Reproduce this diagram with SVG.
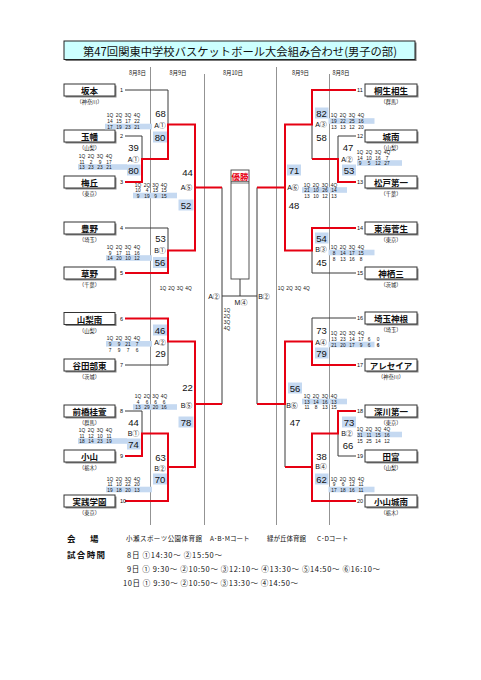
<svg xmlns="http://www.w3.org/2000/svg" width="481" height="680" viewBox="0 0 481 680">
<style>
text{font-family:"Noto Sans CJK JP",sans-serif;dominant-baseline:central;fill:#111}
.tn{font-size:8.5px;font-weight:bold;text-anchor:middle}
.pf{font-size:5.2px;text-anchor:middle}
.no{font-size:5.5px;font-family:"Liberation Sans","Noto Sans CJK JP",sans-serif}
.box{fill:#fff;stroke:#333;stroke-width:1}
.sh{fill:#888}
.ln{fill:none;stroke:#3a3a3a;stroke-width:1}
.rd{fill:none;stroke:#e60012;stroke-width:2}
.col{stroke:#777;stroke-width:0.8}
.sc{font-size:9.5px;text-anchor:middle;font-family:"Liberation Sans","Noto Sans CJK JP",sans-serif}
.lb{font-size:7px;text-anchor:middle;font-family:"Liberation Sans","Noto Sans CJK JP",sans-serif}
.q{font-size:4.8px;text-anchor:middle;font-family:"Liberation Sans","Noto Sans CJK JP",sans-serif}
.hl{fill:#c5d9f1}
.dt{font-size:5.5px;text-anchor:middle}
.ft{font-size:8.5px;font-weight:bold}
.fs{font-size:6.5px}
.tm{font-size:7.5px}
</style>

<g id="title">
<rect x="65.5" y="42.5" width="351" height="18.5" fill="#777"/>
<rect x="64" y="41" width="351" height="18.5" fill="#ccffff" stroke="#222" stroke-width="1"/>
<text x="240" y="50.5" font-size="11.3" text-anchor="middle" textLength="314">第47回関東中学校バスケットボール大会組み合わせ(男子の部)</text>
</g>

<g id="dates">
<text class="dt" x="137.5" y="72.5">8月8日</text>
<text class="dt" x="178" y="72.5">8月9日</text>
<text class="dt" x="233" y="72.5">8月10日</text>
<text class="dt" x="300.5" y="72.5">8月9日</text>
<text class="dt" x="341" y="72.5">8月8日</text>
<line class="col" x1="150.5" y1="67" x2="150.5" y2="525"/>
<line class="col" x1="204.5" y1="74" x2="204.5" y2="525"/>
<line class="col" x1="276.5" y1="67" x2="276.5" y2="525"/>
<line class="col" x1="329.5" y1="74" x2="329.5" y2="525"/>
</g>

<g id="connectors">
<path class="ln" d="M125 90H168V124.5M125 136H142V159M125 228H168V250.5M125 365H168V341.5M125 411H142V433.5"/>
<path class="ln" d="M356 136H338V159M356 273H312V250.5M356 318H312V341.5M356 456H338V433.5M312 124.5V159M285 404V467"/>
<path class="ln" d="M222 187.5V404M257 187.5V404M222 296H257M240 296V279"/>
<path class="rd" d="M125 182H142V159H168V124.5H195V187.5"/>
<path class="rd" d="M125 273H168V250.5H195V187.5H222"/>
<path class="rd" d="M125 318.5H168V341.5H195V404H222"/>
<path class="rd" d="M125 456H142V433.5H168V467H195V404"/>
<path class="rd" d="M125 501H168V467"/>
<path class="rd" d="M356 90H312V124.5H285V187.5H257"/>
<path class="rd" d="M356 182H338V159H312"/>
<path class="rd" d="M356 228H312V250.5H285V187.5"/>
<path class="rd" d="M356 365H312V341.5H285V404H257"/>
<path class="rd" d="M356 411H338V433.5H312V467H285"/>
<path class="rd" d="M356 501H312V467"/>
</g>

<g id="final">
<rect x="231" y="170" width="18" height="109" fill="#fff" stroke="#444" stroke-width="0.9"/>
<line x1="231" y1="181.5" x2="249" y2="181.5" stroke="#444" stroke-width="0.7"/>
<line x1="231" y1="183" x2="249" y2="183" stroke="#444" stroke-width="0.7"/>
<text x="240" y="176" font-size="8.5" font-weight="bold" text-anchor="middle" style="fill:#e60012">優勝</text>
<text class="lb" x="214" y="296">A②</text>
<text class="lb" x="241" y="302.5">M④</text>
<text class="lb" x="264" y="296">B②</text>
<text class="q" x="227" y="310">1Q</text>
<text class="q" x="227" y="316">2Q</text>
<text class="q" x="227" y="322">3Q</text>
<text class="q" x="227" y="328">4Q</text>
<text class="q" y="288"><tspan x="163">1Q</tspan><tspan x="171.5">2Q</tspan><tspan x="180">3Q</tspan><tspan x="188.5">4Q</tspan></text>
<text class="q" y="288"><tspan x="281">1Q</tspan><tspan x="289.5">2Q</tspan><tspan x="298">3Q</tspan><tspan x="306.5">4Q</tspan></text>
</g>

<g id="team-1"><rect class="sh" x="65.5" y="85.5" width="51" height="12"/><rect class="box" x="64" y="84" width="51" height="12"/><text class="tn" x="89.5" y="90">坂本</text><text class="pf" x="89.5" y="101.5">（神奈川）</text><text class="no" x="120" y="90">1</text></g>
<g id="team-2"><rect class="sh" x="65.5" y="131.5" width="51" height="12"/><rect class="box" x="64" y="130" width="51" height="12"/><text class="tn" x="89.5" y="136">玉幡</text><text class="pf" x="89.5" y="147.5">（山梨）</text><text class="no" x="120" y="136">2</text></g>
<g id="team-3"><rect class="sh" x="65.5" y="177.5" width="51" height="12"/><rect class="box" x="64" y="176" width="51" height="12"/><text class="tn" x="89.5" y="182">梅丘</text><text class="pf" x="89.5" y="193.5">（東京）</text><text class="no" x="120" y="182">3</text></g>
<g id="team-4"><rect class="sh" x="65.5" y="223.5" width="51" height="12"/><rect class="box" x="64" y="222" width="51" height="12"/><text class="tn" x="89.5" y="228">豊野</text><text class="pf" x="89.5" y="239.5">（埼玉）</text><text class="no" x="120" y="228">4</text></g>
<g id="team-5"><rect class="sh" x="65.5" y="268.5" width="51" height="12"/><rect class="box" x="64" y="267" width="51" height="12"/><text class="tn" x="89.5" y="273">草野</text><text class="pf" x="89.5" y="284.5">（千葉）</text><text class="no" x="120" y="273">5</text></g>
<g id="team-6"><rect class="sh" x="65.5" y="314" width="51" height="12"/><rect class="box" x="64" y="312.5" width="51" height="12"/><text class="tn" x="89.5" y="318.5">山梨南</text><text class="pf" x="89.5" y="330">（山梨）</text><text class="no" x="120" y="318.5">6</text></g>
<g id="team-7"><rect class="sh" x="65.5" y="360.5" width="51" height="12"/><rect class="box" x="64" y="359" width="51" height="12"/><text class="tn" x="89.5" y="365">谷田部東</text><text class="pf" x="89.5" y="376.5">（茨城）</text><text class="no" x="120" y="365">7</text></g>
<g id="team-8"><rect class="sh" x="65.5" y="406.5" width="51" height="12"/><rect class="box" x="64" y="405" width="51" height="12"/><text class="tn" x="89.5" y="411">前橋桂萱</text><text class="pf" x="89.5" y="422.5">（群馬）</text><text class="no" x="120" y="411">8</text></g>
<g id="team-9"><rect class="sh" x="65.5" y="451.5" width="51" height="12"/><rect class="box" x="64" y="450" width="51" height="12"/><text class="tn" x="89.5" y="456">小山</text><text class="pf" x="89.5" y="467.5">（栃木）</text><text class="no" x="120" y="456">9</text></g>
<g id="team-10"><rect class="sh" x="65.5" y="496.5" width="51" height="12"/><rect class="box" x="64" y="495" width="51" height="12"/><text class="tn" x="89.5" y="501">実践学園</text><text class="pf" x="89.5" y="512.5">（東京）</text><text class="no" x="120" y="501">10</text></g>

<g id="team-11"><rect class="sh" x="366.5" y="85.5" width="52" height="12"/><rect class="box" x="365" y="84" width="52" height="12"/><text class="tn" x="391" y="90">桐生相生</text><text class="pf" x="391" y="101.5">（群馬）</text><text class="no" x="357" y="90">11</text></g>
<g id="team-12"><rect class="sh" x="366.5" y="131.5" width="52" height="12"/><rect class="box" x="365" y="130" width="52" height="12"/><text class="tn" x="391" y="136">城南</text><text class="pf" x="391" y="147.5">（山梨）</text><text class="no" x="357" y="136">12</text></g>
<g id="team-13"><rect class="sh" x="366.5" y="177.5" width="52" height="12"/><rect class="box" x="365" y="176" width="52" height="12"/><text class="tn" x="391" y="182">松戸第一</text><text class="pf" x="391" y="193.5">（千葉）</text><text class="no" x="357" y="182">13</text></g>
<g id="team-14"><rect class="sh" x="366.5" y="223.5" width="52" height="12"/><rect class="box" x="365" y="222" width="52" height="12"/><text class="tn" x="391" y="228">東海菅生</text><text class="pf" x="391" y="239.5">（東京）</text><text class="no" x="357" y="228">14</text></g>
<g id="team-15"><rect class="sh" x="366.5" y="268.5" width="52" height="12"/><rect class="box" x="365" y="267" width="52" height="12"/><text class="tn" x="391" y="273">神栖三</text><text class="pf" x="391" y="284.5">（茨城）</text><text class="no" x="357" y="273">15</text></g>
<g id="team-16"><rect class="sh" x="366.5" y="313.5" width="52" height="12"/><rect class="box" x="365" y="312" width="52" height="12"/><text class="tn" x="391" y="318">埼玉神根</text><text class="pf" x="391" y="329.5">（埼玉）</text><text class="no" x="357" y="318">16</text></g>
<g id="team-17"><rect class="sh" x="366.5" y="360.5" width="52" height="12"/><rect class="box" x="365" y="359" width="52" height="12"/><text class="tn" x="391" y="365">アレセイア</text><text class="pf" x="391" y="376.5">（神奈川）</text><text class="no" x="357" y="365">17</text></g>
<g id="team-18"><rect class="sh" x="366.5" y="406.5" width="52" height="12"/><rect class="box" x="365" y="405" width="52" height="12"/><text class="tn" x="391" y="411">深川第一</text><text class="pf" x="391" y="422.5">（東京）</text><text class="no" x="357" y="411">18</text></g>
<g id="team-19"><rect class="sh" x="366.5" y="451.5" width="52" height="12"/><rect class="box" x="365" y="450" width="52" height="12"/><text class="tn" x="391" y="456">田富</text><text class="pf" x="391" y="467.5">（山梨）</text><text class="no" x="357" y="456">19</text></g>
<g id="team-20"><rect class="sh" x="366.5" y="496.5" width="52" height="12"/><rect class="box" x="365" y="495" width="52" height="12"/><text class="tn" x="391" y="501">小山城南</text><text class="pf" x="391" y="512.5">（栃木）</text><text class="no" x="357" y="501">20</text></g>

<g id="match-A1-8">
<rect class="hl" x="78" y="164.2" width="49" height="5.6"/><rect class="hl" x="127" y="164.5" width="13.5" height="11"/>
<text class="q" y="156"><tspan x="82">1Q</tspan><tspan x="91">2Q</tspan><tspan x="100">3Q</tspan><tspan x="109">4Q</tspan></text>
<text class="q" y="161.5"><tspan x="82">11</tspan><tspan x="91">2</tspan><tspan x="100">9</tspan><tspan x="109">17</tspan></text>
<text class="q" y="167"><tspan x="82">13</tspan><tspan x="91">23</tspan><tspan x="100">23</tspan><tspan x="109">21</tspan></text>
<text class="sc" x="133.5" y="147">39</text><text class="lb" x="133.5" y="159">A①</text><text class="sc" x="133.5" y="170">80</text>
</g>
<g id="match-A1-9">
<rect class="hl" x="105" y="123.7" width="47" height="5.6"/><rect class="hl" x="153" y="131.5" width="14" height="11"/>
<text class="q" y="115"><tspan x="110">1Q</tspan><tspan x="119">2Q</tspan><tspan x="128">3Q</tspan><tspan x="137">4Q</tspan></text>
<text class="q" y="121"><tspan x="110">14</tspan><tspan x="119">15</tspan><tspan x="128">17</tspan><tspan x="137">22</tspan></text>
<text class="q" y="126.5"><tspan x="110">17</tspan><tspan x="119">19</tspan><tspan x="128">23</tspan><tspan x="137">21</tspan></text>
<text class="sc" x="160.5" y="113">68</text><text class="lb" x="160" y="125">A①</text><text class="sc" x="160" y="137">80</text>
</g>
<g id="match-A5">
<rect class="hl" x="133" y="192.7" width="44" height="5.6"/><rect class="hl" x="178.5" y="199.5" width="15" height="11"/>
<text class="q" y="184.5"><tspan x="138">1Q</tspan><tspan x="147">2Q</tspan><tspan x="155.5">3Q</tspan><tspan x="164">4Q</tspan></text>
<text class="q" y="190"><tspan x="138">10</tspan><tspan x="147">4</tspan><tspan x="155.5">15</tspan><tspan x="164">15</tspan></text>
<text class="q" y="195.5"><tspan x="138">9</tspan><tspan x="147">19</tspan><tspan x="155.5">9</tspan><tspan x="164">15</tspan></text>
<text class="sc" x="187.5" y="172">44</text><text class="lb" x="186.5" y="187.5">A⑤</text><text class="sc" x="186" y="205">52</text>
</g>
<g id="match-B1-9">
<rect class="hl" x="106" y="255.2" width="46" height="5.6"/><rect class="hl" x="153" y="257" width="14" height="11"/>
<text class="q" y="247"><tspan x="110">1Q</tspan><tspan x="119">2Q</tspan><tspan x="128">3Q</tspan><tspan x="137">4Q</tspan></text>
<text class="q" y="252.5"><tspan x="110">9</tspan><tspan x="119">17</tspan><tspan x="128">11</tspan><tspan x="137">16</tspan></text>
<text class="q" y="258"><tspan x="110">14</tspan><tspan x="119">20</tspan><tspan x="128">10</tspan><tspan x="137">12</tspan></text>
<text class="sc" x="160.5" y="238">53</text><text class="lb" x="160" y="250">B①</text><text class="sc" x="160" y="262.5">56</text>
</g>
<g id="match-A2-9">
<rect class="hl" x="106" y="341" width="46" height="5.6"/><rect class="hl" x="153" y="324.5" width="14" height="11"/>
<text class="q" y="338"><tspan x="110">1Q</tspan><tspan x="119">2Q</tspan><tspan x="128">3Q</tspan><tspan x="137">4Q</tspan></text>
<text class="q" y="343.7"><tspan x="110">9</tspan><tspan x="119">9</tspan><tspan x="128">21</tspan><tspan x="137">7</tspan></text>
<text class="q" y="349.5"><tspan x="110">7</tspan><tspan x="119">9</tspan><tspan x="128">7</tspan><tspan x="137">6</tspan></text>
<text class="sc" x="160" y="330">46</text><text class="lb" x="160" y="342">A②</text><text class="sc" x="160.5" y="353">29</text>
</g>
<g id="match-B5">
<rect class="hl" x="133" y="404.2" width="44" height="5.6"/><rect class="hl" x="178.5" y="416.5" width="15" height="11"/>
<text class="q" y="396"><tspan x="138">1Q</tspan><tspan x="147">2Q</tspan><tspan x="155.5">3Q</tspan><tspan x="164">4Q</tspan></text>
<text class="q" y="401.5"><tspan x="138">4</tspan><tspan x="147">6</tspan><tspan x="155.5">6</tspan><tspan x="164">6</tspan></text>
<text class="q" y="407"><tspan x="138">13</tspan><tspan x="147">29</tspan><tspan x="155.5">20</tspan><tspan x="164">16</tspan></text>
<text class="sc" x="187.5" y="387">22</text><text class="lb" x="186.5" y="405">B⑤</text><text class="sc" x="186" y="422">78</text>
</g>
<g id="match-B1-8">
<rect class="hl" x="78" y="438.2" width="49" height="5.6"/><rect class="hl" x="127" y="438.5" width="13.5" height="11"/>
<text class="q" y="430"><tspan x="82">1Q</tspan><tspan x="91">2Q</tspan><tspan x="100">3Q</tspan><tspan x="109">4Q</tspan></text>
<text class="q" y="435.5"><tspan x="82">11</tspan><tspan x="91">12</tspan><tspan x="100">10</tspan><tspan x="109">11</tspan></text>
<text class="q" y="441"><tspan x="82">18</tspan><tspan x="91">14</tspan><tspan x="100">23</tspan><tspan x="109">19</tspan></text>
<text class="sc" x="133.5" y="422">44</text><text class="lb" x="133.5" y="433">B①</text><text class="sc" x="133.5" y="444">74</text>
</g>
<g id="match-B2-9">
<rect class="hl" x="106" y="486.7" width="46" height="5.6"/><rect class="hl" x="153" y="473.5" width="14" height="11"/>
<text class="q" y="478.5"><tspan x="110">1Q</tspan><tspan x="119">2Q</tspan><tspan x="128">3Q</tspan><tspan x="137">4Q</tspan></text>
<text class="q" y="484"><tspan x="110">11</tspan><tspan x="119">10</tspan><tspan x="128">22</tspan><tspan x="137">20</tspan></text>
<text class="q" y="489.5"><tspan x="110">19</tspan><tspan x="119">18</tspan><tspan x="128">20</tspan><tspan x="137">13</tspan></text>
<text class="sc" x="160.5" y="457">63</text><text class="lb" x="160" y="468">B②</text><text class="sc" x="160" y="479">70</text>
</g>

<g id="match-A3">
<rect class="hl" x="328.5" y="118.2" width="46" height="5.6"/><rect class="hl" x="315" y="107.5" width="13.5" height="11"/>
<text class="q" y="115"><tspan x="334">1Q</tspan><tspan x="343">2Q</tspan><tspan x="352">3Q</tspan><tspan x="361">4Q</tspan></text>
<text class="q" y="121"><tspan x="334">19</tspan><tspan x="343">22</tspan><tspan x="352">25</tspan><tspan x="361">16</tspan></text>
<text class="q" y="126.5"><tspan x="334">13</tspan><tspan x="343">13</tspan><tspan x="352">12</tspan><tspan x="361">20</tspan></text>
<text class="sc" x="321.5" y="113">82</text><text class="lb" x="321" y="124.5">A③</text><text class="sc" x="321.5" y="137">58</text>
</g>
<g id="match-A2-8">
<rect class="hl" x="357" y="160.2" width="45" height="5.6"/><rect class="hl" x="342" y="164.5" width="14" height="11"/>
<text class="q" y="152"><tspan x="360">1Q</tspan><tspan x="369">2Q</tspan><tspan x="378">3Q</tspan><tspan x="387">4Q</tspan></text>
<text class="q" y="157.5"><tspan x="360">14</tspan><tspan x="369">10</tspan><tspan x="378">16</tspan><tspan x="387">7</tspan></text>
<text class="q" y="163"><tspan x="360">9</tspan><tspan x="369">5</tspan><tspan x="378">12</tspan><tspan x="387">27</tspan></text>
<text class="sc" x="348" y="147">47</text><text class="lb" x="347" y="159">A②</text><text class="sc" x="349" y="170">53</text>
</g>
<g id="match-A6">
<rect class="hl" x="302" y="187.2" width="45" height="5.6"/><rect class="hl" x="287" y="164.5" width="14" height="11"/>
<text class="q" y="184.5"><tspan x="307">1Q</tspan><tspan x="316">2Q</tspan><tspan x="325">3Q</tspan><tspan x="334">4Q</tspan></text>
<text class="q" y="190"><tspan x="307">21</tspan><tspan x="316">10</tspan><tspan x="325">26</tspan><tspan x="334">14</tspan></text>
<text class="q" y="195.5"><tspan x="307">13</tspan><tspan x="316">10</tspan><tspan x="325">12</tspan><tspan x="334">13</tspan></text>
<text class="sc" x="294" y="170">71</text><text class="lb" x="293" y="187.5">A⑥</text><text class="sc" x="294" y="205">48</text>
</g>
<g id="match-B3">
<rect class="hl" x="328.5" y="249.7" width="46" height="5.6"/><rect class="hl" x="315" y="232.5" width="13.5" height="11"/>
<text class="q" y="247"><tspan x="334">1Q</tspan><tspan x="343">2Q</tspan><tspan x="352">3Q</tspan><tspan x="361">4Q</tspan></text>
<text class="q" y="252.5"><tspan x="334">8</tspan><tspan x="343">14</tspan><tspan x="352">17</tspan><tspan x="361">15</tspan></text>
<text class="q" y="258.5"><tspan x="334">8</tspan><tspan x="343">13</tspan><tspan x="352">16</tspan><tspan x="361">8</tspan></text>
<text class="sc" x="321.5" y="238">54</text><text class="lb" x="321" y="249">B③</text><text class="sc" x="321.5" y="262">45</text>
</g>
<g id="match-A4">
<rect class="hl" x="328.5" y="341.7" width="46" height="5.6"/><rect class="hl" x="315" y="347.5" width="13.5" height="11"/>
<text class="q" y="333"><tspan x="334">1Q</tspan><tspan x="343">2Q</tspan><tspan x="352">3Q</tspan><tspan x="361">4Q</tspan></text>
<text class="q" y="338.5"><tspan x="334">13</tspan><tspan x="343">23</tspan><tspan x="352">14</tspan><tspan x="361">17</tspan><tspan x="369">6</tspan><tspan x="378">0</tspan></text>
<text class="q" y="344.5"><tspan x="334">21</tspan><tspan x="343">20</tspan><tspan x="352">17</tspan><tspan x="361">9</tspan><tspan x="369">6</tspan><tspan x="378" font-weight="bold">6</tspan></text>
<text class="sc" x="321.5" y="330">73</text><text class="lb" x="321" y="342">A④</text><text class="sc" x="321.5" y="353">79</text>
</g>
<g id="match-B6">
<rect class="hl" x="302" y="398.7" width="45" height="5.6"/><rect class="hl" x="288" y="382.5" width="14" height="11"/>
<text class="q" y="396"><tspan x="307">1Q</tspan><tspan x="316">2Q</tspan><tspan x="325">3Q</tspan><tspan x="334">4Q</tspan></text>
<text class="q" y="401.5"><tspan x="307">13</tspan><tspan x="316">14</tspan><tspan x="325">16</tspan><tspan x="334">13</tspan></text>
<text class="q" y="407"><tspan x="307">11</tspan><tspan x="316">8</tspan><tspan x="325">13</tspan><tspan x="334">15</tspan></text>
<text class="sc" x="295" y="388">56</text><text class="lb" x="292" y="405">B⑥</text><text class="sc" x="295" y="422">47</text>
</g>
<g id="match-B2-8">
<rect class="hl" x="357" y="431.7" width="45" height="5.6"/><rect class="hl" x="342" y="416.5" width="14" height="11"/>
<text class="q" y="429"><tspan x="360">1Q</tspan><tspan x="369">2Q</tspan><tspan x="378">3Q</tspan><tspan x="387">4Q</tspan></text>
<text class="q" y="434.5"><tspan x="360">31</tspan><tspan x="369">11</tspan><tspan x="378">15</tspan><tspan x="387">16</tspan></text>
<text class="q" y="440.5"><tspan x="360">15</tspan><tspan x="369">25</tspan><tspan x="378">14</tspan><tspan x="387">12</tspan></text>
<text class="sc" x="349" y="422">73</text><text class="lb" x="347" y="433">B②</text><text class="sc" x="348" y="445">66</text>
</g>
<g id="match-B4">
<rect class="hl" x="328.5" y="486.7" width="46" height="5.6"/><rect class="hl" x="315" y="473.5" width="13.5" height="11"/>
<text class="q" y="478.5"><tspan x="334">1Q</tspan><tspan x="343">2Q</tspan><tspan x="352">3Q</tspan><tspan x="361">4Q</tspan></text>
<text class="q" y="484"><tspan x="334">9</tspan><tspan x="343">6</tspan><tspan x="352">12</tspan><tspan x="361">11</tspan></text>
<text class="q" y="489.5"><tspan x="334">17</tspan><tspan x="343">18</tspan><tspan x="352">16</tspan><tspan x="361">11</tspan></text>
<text class="sc" x="321.5" y="456">38</text><text class="lb" x="321" y="466">B④</text><text class="sc" x="321.5" y="479">62</text>
</g>

<g id="notes">
<text class="ft" x="67" y="538">会</text><text class="ft" x="90" y="538">場</text>
<text class="fs" x="126" y="538" textLength="76">小瀬スポーツ公園体育館</text>
<text class="fs" x="210" y="538">A･B･Mコート</text>
<text class="fs" x="267" y="538">緑が丘体育館</text>
<text class="fs" x="317" y="538">C･Dコート</text>
<text class="ft" x="67" y="554" textLength="38">試合時間</text>
<text class="tm" x="127" y="554" textLength="95">8日 ①14:30～ ②15:50～</text>
<text class="tm" x="127" y="568" textLength="253">9日 ① 9:30～ ②10:50～ ③12:10～ ④13:30～ ⑤14:50～ ⑥16:10～</text>
<text class="tm" x="123" y="582" textLength="175">10日 ① 9:30～ ②10:50～ ③13:30～ ④14:50～</text>
</g>
</svg>
